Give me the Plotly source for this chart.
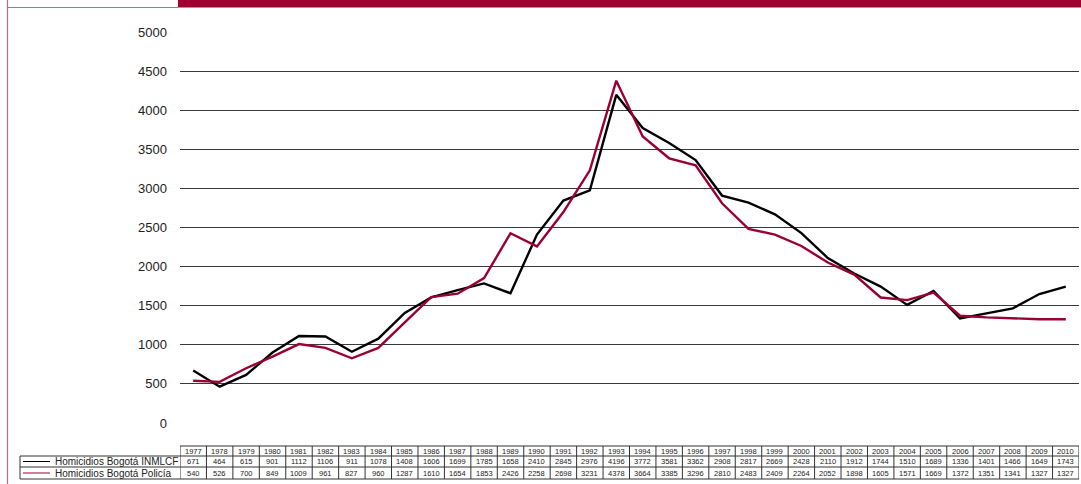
import plotly.graph_objects as go

years = list(range(1977, 2011))
inmlcf = [671, 464, 615, 901, 1112, 1106, 911, 1078, 1408, 1606, 1699, 1785, 1658, 2410, 2845,
          2976, 4196, 3772, 3581, 3362, 2908, 2817, 2669, 2428, 2110, 1912, 1744, 1510, 1689,
          1336, 1401, 1466, 1649, 1743]
policia = [540, 526, 700, 849, 1009, 961, 827, 960, 1287, 1610, 1654, 1853, 2426, 2258, 2698,
           3231, 4378, 3664, 3385, 3296, 2810, 2483, 2409, 2264, 2052, 1898, 1605, 1571, 1669,
           1372, 1351, 1341, 1327, 1327]
series_names = ["Homicidios Bogotá INMLCF", "Homicidios Bogotá Policía"]
series_colors = ["#000000", "#9B0034"]
y_ticks = [0, 500, 1000, 1500, 2000, 2500, 3000, 3500, 4000, 4500, 5000]

W, H = 1081, 484
def px(x): return x / W
def py(y): return 1 - y / H

fig = go.Figure()
for vals, name, col in zip([inmlcf, policia], series_names, series_colors):
    fig.add_trace(go.Scatter(x=years, y=vals, mode="lines", name=name,
                             line=dict(color=col, width=2.4), showlegend=False))

shapes = []
annotations = []
border = "#333333"
# header bar and frame
shapes.append(dict(type="rect", xref="paper", yref="paper", x0=px(178), x1=1, y0=py(7.5), y1=1,
                   fillcolor="#9E0033", line=dict(width=0), layer="below"))
shapes.append(dict(type="line", xref="paper", yref="paper", x0=px(7.5), x1=px(7.5), y0=0, y1=1,
                   line=dict(color="#C46A88", width=1.2)))
shapes.append(dict(type="line", xref="paper", yref="paper", x0=px(7.5), x1=px(178), y0=py(7.5), y1=py(7.5),
                   line=dict(color="#C46A88", width=1.2)))

# table
y_top, y_r1, y_r2, y_bot = 446, 456, 467, 479
x_left_px = 20
for yy, xs in [(y_top, None), (y_r1, x_left_px), (y_r2, x_left_px), (y_bot, x_left_px)]:
    if xs is None:
        shapes.append(dict(type="line", xref="x", yref="paper", x0=years[0]-0.5, x1=years[-1]+0.5,
                           y0=py(yy), y1=py(yy), line=dict(color=border, width=1)))
    else:
        shapes.append(dict(type="line", xref="paper", yref="paper", x0=px(xs), x1=px(1079),
                           y0=py(yy), y1=py(yy), line=dict(color=border, width=1)))
shapes.append(dict(type="line", xref="paper", yref="paper", x0=px(x_left_px), x1=px(x_left_px),
                   y0=py(y_r1), y1=py(y_bot), line=dict(color=border, width=1)))
for i in range(len(years) + 1):
    xb = years[0] - 0.5 + i
    shapes.append(dict(type="line", xref="x", yref="paper", x0=xb, x1=xb,
                       y0=py(y_top), y1=py(y_bot), line=dict(color=border, width=1)))

fs = 7.5
cell_font = dict(size=fs, color="#222")
for i, yr in enumerate(years):
    for txt, yc in [(str(yr), (y_top + y_r1) / 2), (str(inmlcf[i]), (y_r1 + y_r2) / 2),
                    (str(policia[i]), (y_r2 + y_bot) / 2)]:
        annotations.append(dict(x=yr, y=py(yc), xref="x", yref="paper", text=txt,
                                showarrow=False, xanchor="center", yanchor="middle",
                                font=cell_font))

for k, (name, col) in enumerate(zip(series_names, series_colors)):
    yc = (y_r1 + y_r2) / 2 if k == 0 else (y_r2 + y_bot) / 2
    shapes.append(dict(type="line", xref="paper", yref="paper", x0=px(23), x1=px(50),
                       y0=py(yc), y1=py(yc), line=dict(color=col, width=1)))
    annotations.append(dict(x=px(53), y=py(yc), xref="paper", yref="paper", text=name,
                            showarrow=False, xanchor="left", yanchor="middle",
                            font=dict(size=10, color="#222")))

fig.update_layout(
    width=W, height=H,
    margin=dict(l=0, r=0, t=0, b=0, pad=0, autoexpand=False),
    paper_bgcolor="white", plot_bgcolor="white",
    font=dict(family="Liberation Sans, Arial, sans-serif", color="#222"),
    xaxis=dict(domain=[px(180), px(1079)], range=[years[0]-0.5, years[-1]+0.5], automargin=False,
               showticklabels=False, showgrid=False, zeroline=False, showline=False, ticks=""),
    yaxis=dict(domain=[py(423), py(32)], range=[0, 5000], tickvals=y_ticks, automargin=False,
               showgrid=True, gridcolor="#3a3a3a", gridwidth=1, zeroline=False,
               showline=False, ticks="", ticklabelstandoff=12,
               tickfont=dict(size=13, color="#222")),
    shapes=shapes, annotations=annotations,
)
fig.write_html("out.html", config={"displayModeBar": False},
               post_script="document.body.style.margin='0';document.body.style.overflow='hidden';")
